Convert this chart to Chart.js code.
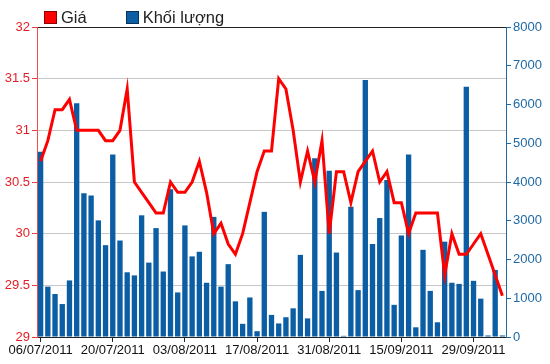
<!DOCTYPE html>
<html>
<head>
<meta charset="utf-8">
<script src="https://cdn.jsdelivr.net/npm/chart.js@4.4.1/dist/chart.umd.min.js"></script>
<style>
    body { margin: 0; background: #fff; }
    #wrap { position: relative; width: 550px; height: 364px; }
    #legend {
        position: absolute; left: 44px; top: 9px;
        font: 16.5px "Liberation Sans", Arial, sans-serif; color: #222;
        display: flex; align-items: center; line-height: 17px;
    }
    #legend .box { display: inline-block; width: 11px; height: 11px; border: 1px solid rgba(0,0,0,0.45); margin-right: 4px; }
    #legend .item { display: flex; align-items: center; margin-right: 39px; }
</style>
</head>
<body>
<div id="wrap">
    <canvas id="priceChart" width="550" height="364"></canvas>
    <div id="legend">
        <span class="item"><span class="box" style="background:#ff0000"></span>Giá</span>
        <span class="item"><span class="box" style="background:#0b5ea3"></span>Khối lượng</span>
    </div>
</div>
<script>
// ngày giao dịch (02/09 nghỉ lễ)
const dates = [
    '06/07/2011', '07/07/2011', '08/07/2011', '11/07/2011', '12/07/2011', '13/07/2011', '14/07/2011', '15/07/2011',
    '18/07/2011', '19/07/2011', '20/07/2011', '21/07/2011', '22/07/2011', '25/07/2011', '26/07/2011', '27/07/2011',
    '28/07/2011', '29/07/2011', '01/08/2011', '02/08/2011', '03/08/2011', '04/08/2011', '05/08/2011', '08/08/2011',
    '09/08/2011', '10/08/2011', '11/08/2011', '12/08/2011', '15/08/2011', '16/08/2011', '17/08/2011', '18/08/2011',
    '19/08/2011', '22/08/2011', '23/08/2011', '24/08/2011', '25/08/2011', '26/08/2011', '29/08/2011', '30/08/2011',
    '31/08/2011', '01/09/2011', '05/09/2011', '06/09/2011', '07/09/2011', '08/09/2011', '09/09/2011', '12/09/2011',
    '13/09/2011', '14/09/2011', '15/09/2011', '16/09/2011', '19/09/2011', '20/09/2011', '21/09/2011', '22/09/2011',
    '23/09/2011', '26/09/2011', '27/09/2011', '28/09/2011', '29/09/2011', '30/09/2011', '03/10/2011', '04/10/2011',
    '05/10/2011'
];
const shownDates = ['06/07/2011', '20/07/2011', '03/08/2011', '17/08/2011', '31/08/2011', '15/09/2011', '29/09/2011'];

const priceValues = [
    30.7, 30.9, 31.2, 31.2, 31.3, 31.0, 31.0, 31.0, 31.0, 30.9,
    30.9, 31.0, 31.4, 30.5, 30.4, 30.3, 30.2, 30.2, 30.5, 30.4,
    30.4, 30.5, 30.7, 30.4, 30.0, 30.1, 29.9, 29.8, 30.0, 30.3,
    30.6, 30.8, 30.8, 31.5, 31.4, 31.0, 30.5, 30.8, 30.5, 30.9,
    30.0, 30.6, 30.6, 30.3, 30.6, 30.7, 30.8, 30.5, 30.6, 30.3,
    30.3, 30.0, 30.2, 30.2, 30.2, 30.2, 29.6, 30.0, 29.8, 29.8,
    29.9, 30.0, 29.8, 29.6, 29.4
];
const volumeValues = [
    4780, 1300, 1110, 850, 1460, 6030, 3710, 3650, 3010, 2370,
    4710, 2490, 1670, 1590, 3140, 1920, 2810, 1690, 3810, 1150,
    2880, 2080, 2200, 1400, 3100, 1300, 1880, 920, 340, 1020,
    150, 3230, 570, 350, 510, 740, 2120, 480, 4610, 1190,
    4290, 2180, 30, 3360, 1210, 6630, 2400, 3070, 4050, 830,
    2620, 4710, 250, 2250, 1190, 380, 2460, 1400, 1370, 6460,
    1450, 990, 40, 1730, 40
];
const priceTicks = [29, 29.5, 30, 30.5, 31, 31.5, 32];
const volumeTicks = [0, 1000, 2000, 3000, 4000, 5000, 6000, 7000, 8000];

Chart.defaults.font.family = '"Liberation Sans", Arial, sans-serif';
Chart.defaults.font.size = 13;

const ctx = document.getElementById('priceChart');
new Chart(ctx, {
    type: 'bar',
    data: {
        labels: dates,
        datasets: [
            {
                type: 'line',
                label: 'Giá',
                data: priceValues,
                yAxisID: 'yPrice',
                borderColor: '#ff0000',
                borderWidth: 3,
                pointRadius: 0,
                tension: 0,
                order: 0
            },
            {
                type: 'bar',
                label: 'Khối lượng',
                data: volumeValues,
                yAxisID: 'yVolume',
                backgroundColor: '#0b5ea3',
                categoryPercentage: 1,
                barPercentage: 0.74,
                order: 1
            }
        ]
    },
    options: {
        responsive: false,
        animation: false,
        layout: { padding: { top: 27 } },
        plugins: {
            legend: { display: false },
            tooltip: { enabled: false }
        },
        scales: {
            x: {
                offset: true,
                grid: { offset: false, drawOnChartArea: false, tickLength: 5, color: '#222' },
                border: { color: '#222' },
                ticks: {
                    autoSkip: false,
                    maxRotation: 0,
                    color: '#111',
                    padding: 1,
                    callback: (v, i) => shownDates.includes(dates[i]) ? dates[i] : null
                },
                afterFit: s => { s.height = 27; }
            },
            yPrice: {
                position: 'left',
                min: 29,
                max: 32,
                afterBuildTicks: s => { s.ticks = priceTicks.map(v => ({ value: v })); },
                ticks: { color: '#e31e24', padding: 2, callback: v => String(v) },
                grid: {
                    color: c => (c.tick && (c.tick.value === 32 || c.tick.value === 29)) ? '#222' : '#c8c8c8',
                    tickColor: '#e84040',
                    tickLength: 5
                },
                border: { color: '#f05050' },
                afterFit: s => { s.width = 37; }
            },
            yVolume: {
                position: 'right',
                min: 0,
                max: 8000,
                afterBuildTicks: s => { s.ticks = volumeTicks.map(v => ({ value: v })); },
                ticks: { color: '#1f69a5', padding: 2, callback: v => String(v) },
                grid: { drawOnChartArea: false, color: '#1f69a5', tickLength: 5 },
                border: { color: '#1f69a5' },
                afterFit: s => { s.width = 44; }
            }
        }
    }
});
</script>
</body>
</html>
